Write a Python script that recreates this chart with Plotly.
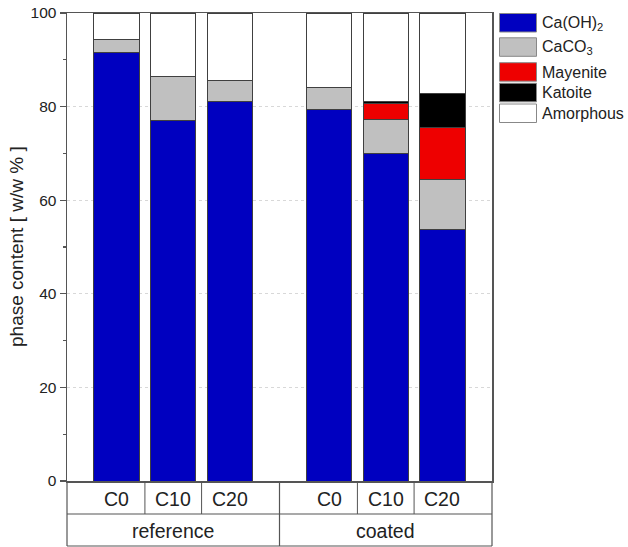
import plotly.graph_objects as go

samples = ["C0", "C10", "C20", "C0", "C10", "C20"]
groups = ["reference", "coated"]
x_pos = [1, 2, 3, 4.75, 5.75, 6.75]

caoh2 = [91.5, 77.1, 81.1, 79.4, 70.0, 53.8]
caco3 = [2.9, 9.4, 4.4, 4.6, 7.3, 10.7]
mayenite = [0, 0, 0, 0, 3.4, 11.0]
katoite = [0, 0, 0, 0, 0.4, 7.3]
amorphous = [5.6, 13.5, 14.5, 16.0, 18.9, 17.2]

phase_names = ["Ca(OH)<sub>2</sub>", "CaCO<sub>3</sub>", "Mayenite", "Katoite", "Amorphous"]
phase_values = [caoh2, caco3, mayenite, katoite, amorphous]
phase_colors = ["#0000C0", "#C0C0C0", "#EE0000", "#000000", "#FFFFFF"]

FONT = "Arial, Liberation Sans, sans-serif"
TXT = "#222222"
XR = [0.125, 7.625]
W, H = 628, 547
# plot area in page pixels: x 67..492, y 13..481
PL, PR, PT, PB = 67, 492, 13, 481
ML, MT = PL, PT
MR, MB = W - PR, H - PB
PW, PH = PR - PL, PB - PT

def xp(v):
    return (v - XR[0]) / (XR[1] - XR[0])

def xpix(pix):
    return (pix - PL) / PW

def yp(pix):
    return (PB - pix) / PH

fig = go.Figure()
for name, vals, col in zip(phase_names, phase_values, phase_colors):
    fig.add_trace(go.Bar(
        x=x_pos, y=vals, name=name, width=0.8,
        marker=dict(color=col, line=dict(color="#404040", width=1)),
        showlegend=False,
    ))

shapes = []
line_c = "#555555"
row1_bot = yp(514)
row2_bot = yp(546)
for xv in [1.5, 2.5, 5.25, 6.25]:
    shapes.append(dict(type="line", xref="paper", yref="paper", x0=xp(xv), x1=xp(xv),
                       y0=0, y1=row1_bot, line=dict(color=line_c, width=1)))
for xv in [XR[0], 3.875, XR[1]]:
    shapes.append(dict(type="line", xref="paper", yref="paper", x0=xp(xv), x1=xp(xv),
                       y0=0, y1=row2_bot, line=dict(color=line_c, width=1.2)))
for yv in [row1_bot, row2_bot]:
    shapes.append(dict(type="line", xref="paper", yref="paper", x0=0, x1=1,
                       y0=yv, y1=yv, line=dict(color=line_c, width=1.2)))

annotations = []
for xv, lab in zip(x_pos, samples):
    annotations.append(dict(x=xp(xv), y=yp(498.5), xref="paper", yref="paper", text=lab,
                            xanchor="center", yanchor="middle",
                            showarrow=False, font=dict(family=FONT, size=19.5, color=TXT)))
for xv, lab in zip([2.0, 5.75], groups):
    annotations.append(dict(x=xp(xv), y=yp(530.5), xref="paper", yref="paper", text=lab,
                            xanchor="center", yanchor="middle",
                            showarrow=False, font=dict(family=FONT, size=19.5, color=TXT)))

leg_tops = [13.5, 37.8, 62.7, 83.3, 104]
for name, col, top in zip(phase_names, phase_colors, leg_tops):
    shapes.append(dict(type="rect", xref="paper", yref="paper", x0=xpix(499.5), x1=xpix(536.5),
                       y0=yp(top + 18.5), y1=yp(top), fillcolor=col,
                       line=dict(color="#888888", width=1)))
    annotations.append(dict(x=xpix(540), y=yp(top + 9.5), xref="paper", yref="paper",
                            text=name, showarrow=False, xanchor="left", yanchor="middle",
                            font=dict(family=FONT, size=16, color=TXT)))

# y-axis title
annotations.append(dict(x=xpix(16), y=0.5, xref="paper", yref="paper",
                        text="phase content [ w/w % ]", textangle=-90, showarrow=False,
                        xanchor="center", yanchor="middle",
                        font=dict(family=FONT, size=19, color=TXT)))

fig.update_layout(
    width=W, height=H,
    margin=dict(l=ML, r=MR, t=MT, b=MB, pad=0, autoexpand=False),
    barmode="stack",
    plot_bgcolor="white", paper_bgcolor="white",
    shapes=shapes, annotations=annotations,
    xaxis=dict(range=XR, showticklabels=False, ticks="", showgrid=False, zeroline=False,
               showline=True, mirror=True, linecolor=line_c, linewidth=1.5, automargin=False),
    yaxis=dict(range=[0, 100], dtick=20, tick0=0, ticks="outside", ticklen=6, tickwidth=1.2,
               tickcolor=line_c, showline=True, mirror=True, linecolor=line_c, linewidth=1.5,
               showgrid=True, gridcolor="#d8d8d8", griddash="dot", gridwidth=1, zeroline=False,
               automargin=False, ticklabeloverflow="allow",
               tickfont=dict(family=FONT, size=15.5, color=TXT),
               minor=dict(dtick=10, ticks="outside", ticklen=3, tickcolor=line_c, showgrid=False)),
)

fig.write_html("out.html", config={"displayModeBar": False, "staticPlot": True},
               post_script="document.body.style.margin='0';document.body.style.overflow='hidden';")
